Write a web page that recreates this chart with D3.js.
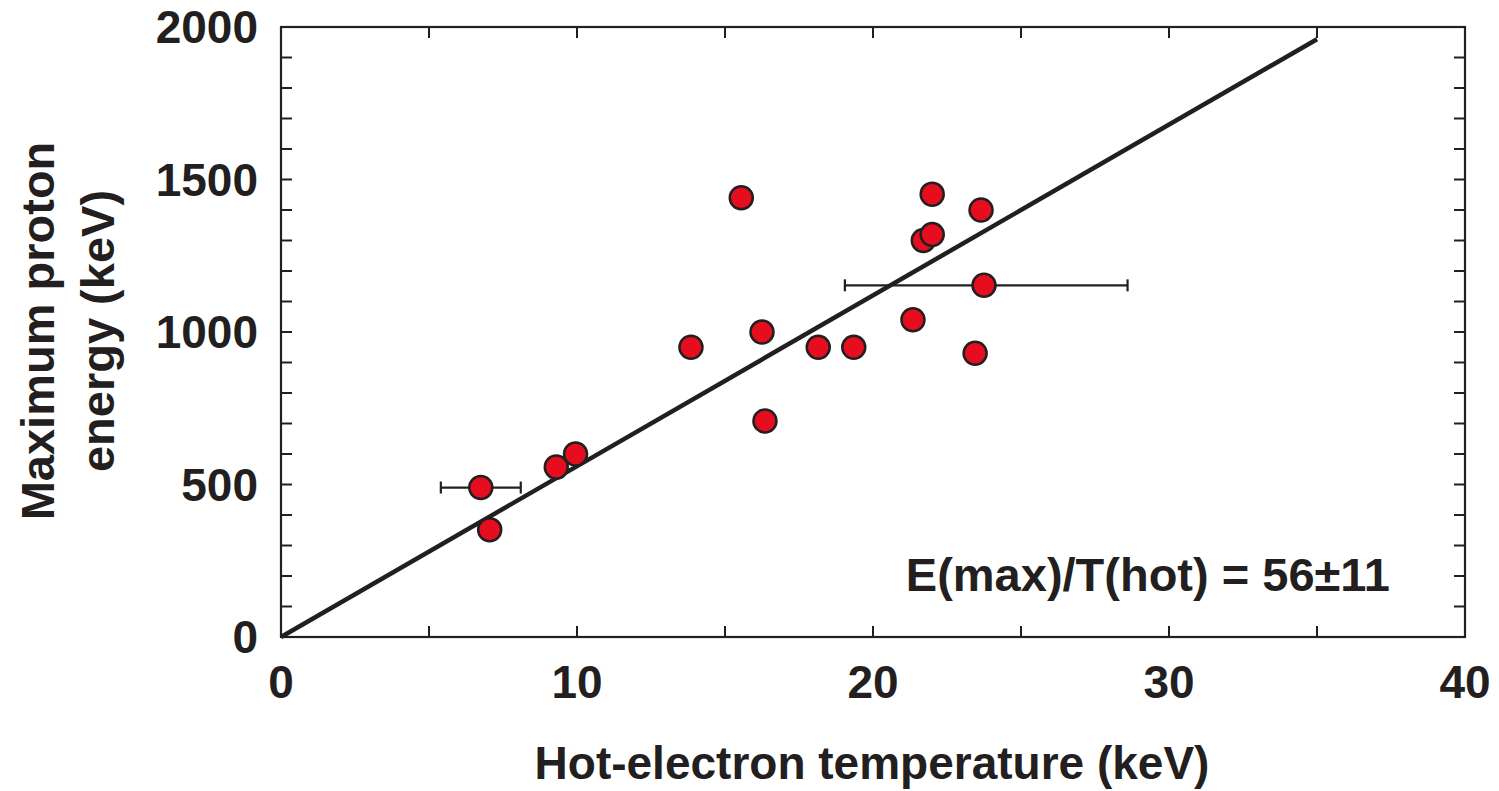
<!DOCTYPE html>
<html>
<head>
<meta charset="utf-8">
<script src="https://cdn.jsdelivr.net/npm/d3@7"></script>
<style>
  body { margin: 0; background: #fff; }
  text { font-family: "Liberation Sans", Arial, sans-serif; font-weight: bold; fill: #231f20; }
</style>
</head>
<body>
<svg id="chart" width="1499" height="791"></svg>
<script>
// hot-electron temperature (keV) and max proton energy (keV)
var tHot = [6.75, 7.05, 9.3, 9.95, 13.85, 15.55, 16.25, 16.35, 18.15, 19.35, 21.35, 21.7, 22.0, 22.0, 23.45, 23.65, 23.75];
var eMax = [490, 352, 557, 600, 950, 1440, 1000, 708, 950, 950, 1040, 1300, 1320, 1452, 930, 1400, 1153];
// error bars: point index, low and high temperature
var errIdx = [0, 16];
var errLo = [5.4, 19.05];
var errHi = [8.1, 28.6];
// fit line E = 56 * T
var fitSlope = 56;
var fitRange = [0, 35];
var xTicks = [0, 10, 20, 30, 40];
var yTicks = [0, 500, 1000, 1500, 2000];

var svg = d3.select("#chart");
var ink = "#231f20";
var x = d3.scaleLinear().domain([0, 40]).range([281, 1465]);
var y = d3.scaleLinear().domain([0, 2000]).range([637, 27]);

// frame
svg.append("rect")
  .attr("x", x(0)).attr("y", y(2000))
  .attr("width", x(40) - x(0)).attr("height", y(0) - y(2000))
  .attr("fill", "none").attr("stroke", ink).attr("stroke-width", 2.2);

// inward ticks on all four sides
var minorX = d3.range(0, 40.01, 5);
var minorY = d3.range(0, 2000.1, 100);
var tl = 11;
svg.append("g").selectAll("line").data(minorX).enter().append("line")
  .attr("x1", d => x(d)).attr("x2", d => x(d))
  .attr("y1", y(0)).attr("y2", y(0) - tl)
  .attr("stroke", ink).attr("stroke-width", 2);
svg.append("g").selectAll("line").data(minorX).enter().append("line")
  .attr("x1", d => x(d)).attr("x2", d => x(d))
  .attr("y1", y(2000)).attr("y2", y(2000) + tl)
  .attr("stroke", ink).attr("stroke-width", 2);
svg.append("g").selectAll("line").data(minorY).enter().append("line")
  .attr("y1", d => y(d)).attr("y2", d => y(d))
  .attr("x1", x(0)).attr("x2", x(0) + tl)
  .attr("stroke", ink).attr("stroke-width", 2);
svg.append("g").selectAll("line").data(minorY).enter().append("line")
  .attr("y1", d => y(d)).attr("y2", d => y(d))
  .attr("x1", x(40)).attr("x2", x(40) - tl)
  .attr("stroke", ink).attr("stroke-width", 2);

// tick labels
svg.append("g").selectAll("text").data(xTicks).enter().append("text")
  .attr("x", d => x(d)).attr("y", 698)
  .attr("text-anchor", "middle").style("font-size", "46px")
  .text(d => d);
svg.append("g").selectAll("text").data(yTicks).enter().append("text")
  .attr("x", 258).attr("y", d => y(d) + 16)
  .attr("text-anchor", "end").style("font-size", "46px")
  .text(d => d);

// axis titles
svg.append("text")
  .attr("x", 872).attr("y", 779)
  .attr("text-anchor", "middle").style("font-size", "46px")
  .text("Hot-electron temperature (keV)");
var yt = svg.append("text")
  .attr("transform", "translate(0,331) rotate(-90)")
  .attr("text-anchor", "middle").style("font-size", "47px");
yt.append("tspan").attr("x", 0).attr("y", 54).text("Maximum proton");
yt.append("tspan").attr("x", 0).attr("y", 114).text("energy (keV)");

// fit line
svg.append("line")
  .attr("x1", x(fitRange[0])).attr("y1", y(fitRange[0] * fitSlope))
  .attr("x2", x(fitRange[1])).attr("y2", y(fitRange[1] * fitSlope))
  .attr("stroke", ink).attr("stroke-width", 4.5);

// error bars
errIdx.forEach(function(k, i) {
  var g = svg.append("g").attr("stroke", ink).attr("stroke-width", 2.2);
  var cy = y(eMax[k]);
  g.append("line").attr("x1", x(errLo[i])).attr("x2", x(errHi[i])).attr("y1", cy).attr("y2", cy);
  g.append("line").attr("x1", x(errLo[i])).attr("x2", x(errLo[i])).attr("y1", cy - 6).attr("y2", cy + 6);
  g.append("line").attr("x1", x(errHi[i])).attr("x2", x(errHi[i])).attr("y1", cy - 6).attr("y2", cy + 6);
});

// points
svg.append("g").selectAll("circle").data(tHot).enter().append("circle")
  .attr("cx", d => x(d))
  .attr("cy", (d, i) => y(eMax[i]))
  .attr("r", 11.5)
  .attr("fill", "#e60d1f")
  .attr("stroke", ink).attr("stroke-width", 2.5);

// annotation
svg.append("text")
  .attr("x", 1390).attr("y", 591)
  .attr("text-anchor", "end").style("font-size", "47px")
  .text("E(max)/T(hot) = 56\u00b111");
</script>
</body>
</html>
